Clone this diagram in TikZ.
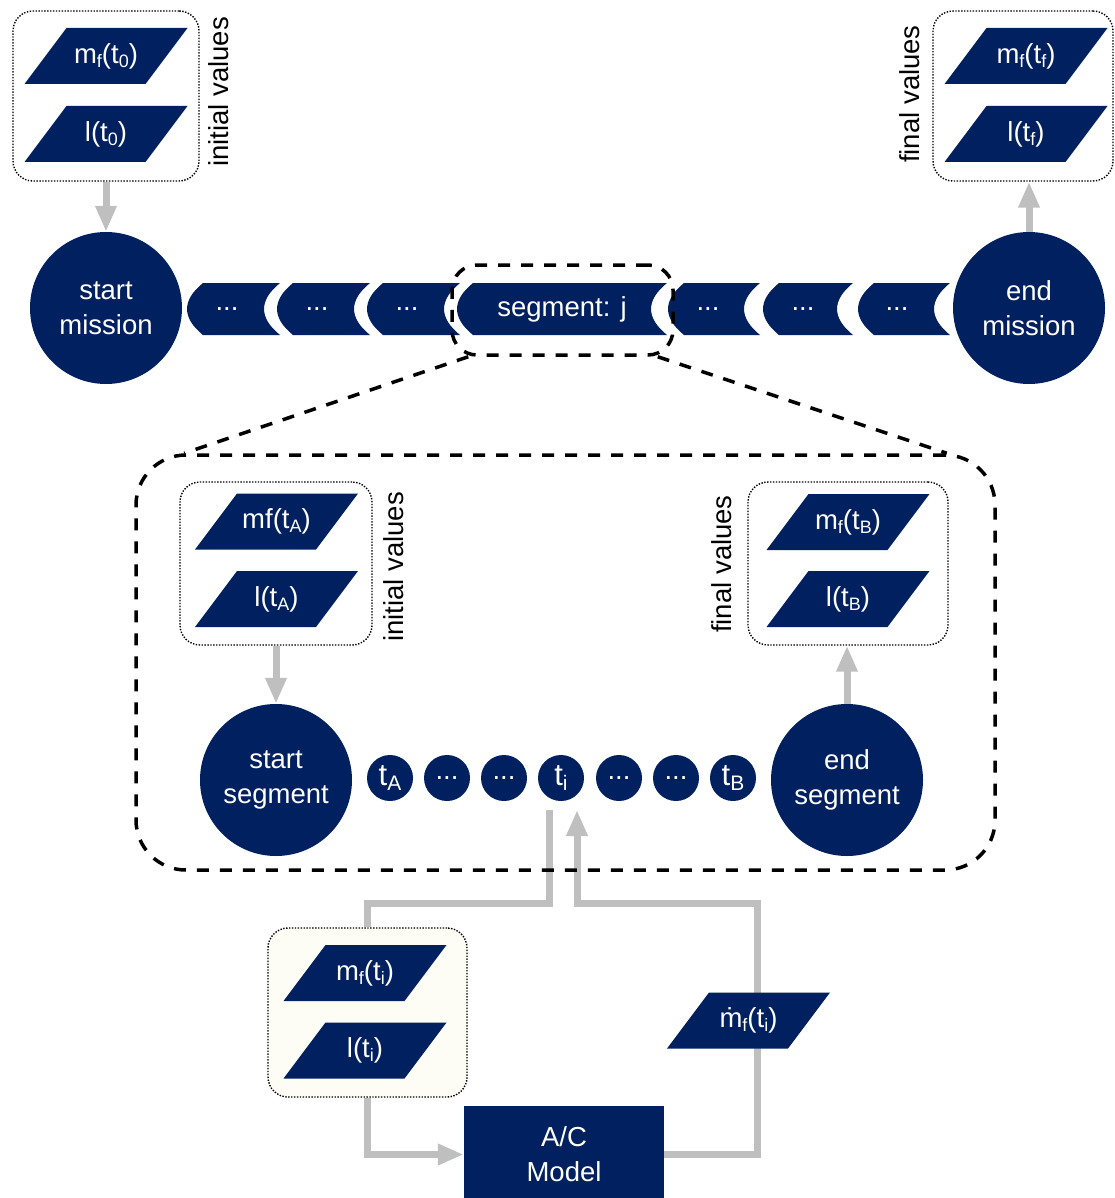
\documentclass[tikz,border=0pt]{standalone}
\usepackage{fontspec}
\setmainfont{Liberation Sans}
\usetikzlibrary{arrows.meta}

\definecolor{navy}{RGB}{0,32,96}
\definecolor{linkgray}{RGB}{191,191,191}
\definecolor{cream}{RGB}{253,253,246}

\pgfdeclarelayer{bg}
\pgfsetlayers{bg,main}

% lowered small index, as in m_f(t_0)
\newcommand\sub[1]{\raisebox{-4pt}{\fontsize{18}{18}\selectfont #1}}
% larger index for the time step discs
\newcommand\subt[1]{\raisebox{-5pt}{\fontsize{21}{21}\selectfont #1}}
% m with a dot above (mass flow)
\newcommand\mdot{\ooalign{m\cr\hidewidth\char"02D9\hidewidth\cr}}

% parallelogram data block: name, x, y, text
\newcommand\para[4]{%
  \fill[navy] (#2-39.5,#3-28) -- (#2+81.5,#3-28) -- (#2+39.5,#3+28) -- (#2-81.5,#3+28) -- cycle;
  \node[paratext] (#1) at (#2,#3) {#4};}

% mission segment chevron: name, left point x, right top x, text x, text
\newcommand\chev[5]{%
  \fill[navy] (#2+16,283) -- (#3,283)
    .. controls (#3-21.3,300.3) and (#3-21.3,317.7) .. (#3,335)
    -- (#2+16,335)
    .. controls (#2-5.3,317.7) and (#2-5.3,300.3) .. (#2+16,283) -- cycle;
  \node[chevtext] (#1) at (#4,309) {#5};}

\tikzset{
  every node/.style={font=\fontsize{27.5}{35}\selectfont},
  disc/.style={circle, fill=navy, text=white, minimum size=152pt, inner sep=0pt, align=center},
  tdot/.style={circle, fill=navy, text=white, minimum size=46pt, inner sep=0pt,
               font=\fontsize{31}{35}\selectfont},
  gapdot/.style={tdot, font=\fontsize{27.5}{35}\selectfont},
  paratext/.style={minimum width=163pt, minimum height=56pt, inner sep=0pt, text=white},
  chevtext/.style={text=white, inner sep=0pt},
  holder/.style={draw=black, rounded corners=20pt, line width=1.4pt,
                 dash pattern=on 1.4pt off 1.5pt, inner sep=0pt},
  sidenote/.style={rotate=90, inner sep=0pt},
  zoomline/.style={draw=black, line width=3.5pt, dash pattern=on 12pt off 11pt},
  link/.style={draw=linkgray, line width=7pt},
  linkarrow/.style={link, -{Triangle[width=20pt,length=26pt]}},
  model/.style={rectangle, fill=navy, text=white, align=center, inner sep=0pt}
}

\begin{document}
\begin{tikzpicture}[x=1pt, y=-1pt]
\useasboundingbox (0,0) rectangle (1115,1198);

% ---------- mission level ----------
\node[holder, minimum width=186pt, minimum height=170pt] (ini0) at (106,96) {};
\para{mf0}{106}{56}{m\sub{f}(t\sub{0})}
\para{l0}{106}{134}{l(t\sub{0})}
\node[sidenote] (ini0txt) at (219,92) {initial values};

\node[holder, minimum width=180pt, minimum height=170pt] (fin0) at (1023,96) {};
\para{mff}{1026}{56}{m\sub{f}(t\sub{f})}
\para{lf}{1026}{134}{l(t\sub{f})}
\node[sidenote] (fin0txt) at (910,94) {final values};

\chev{c1}{187}{280}{227}{...}
\chev{c2}{277}{370}{317}{...}
\chev{c3}{367}{460}{407}{...}
\chev{cj}{457}{667}{562}{segment: j}
\chev{c5}{668}{760}{708}{...}
\chev{c6}{763}{853}{803}{...}
\chev{c7}{858}{950}{897}{...}

\node[disc] (startm) at (106,308) {start\\mission};
\node[disc] (endm) at (1029,308) {end\\mission};

\node[zoomline, rectangle, rounded corners=25pt, minimum width=221pt, minimum height=90pt] (segbox) at (562.5,310) {};

% ---------- segment level ----------
\node[zoomline, rectangle, rounded corners=50pt, minimum width=859pt, minimum height=415pt] (zoombox) at (565.5,662.5) {};
\draw[zoomline] ([xshift=18pt]segbox.south west) -- ([xshift=50pt]zoombox.north west);
\draw[zoomline] ([xshift=-17pt]segbox.south east) -- ([xshift=-50pt]zoombox.north east);

\node[holder, minimum width=192pt, minimum height=163pt] (iniA) at (276,563.5) {};
\para{mfA}{276.5}{521.5}{mf(t\sub{A})}
\para{lA}{276.5}{599}{l(t\sub{A})}
\node[sidenote] (iniAtxt) at (394,567) {initial values};

\node[holder, minimum width=200pt, minimum height=163pt] (finB) at (848,563.5) {};
\para{mfB}{848}{522}{m\sub{f}(t\sub{B})}
\para{lB}{848}{599}{l(t\sub{B})}
\node[sidenote] (finBtxt) at (722,564) {final values};

\node[disc] (starts) at (276,780) {start\\segment};
\node[disc] (ends) at (847,780) {end\\segment};

\node[tdot] (tA) at (390,778) {t\subt{A}};
\node[gapdot] (t2) at (447,778) {...};
\node[gapdot] (t3) at (504,778) {...};
\node[tdot] (ti) at (561,778) {t\subt{i}};
\node[gapdot] (t5) at (619,778) {...};
\node[gapdot] (t6) at (676,778) {...};
\node[tdot] (tB) at (733,778) {t\subt{B}};

% ---------- time step level ----------
\node[holder, fill=cream, minimum width=199pt, minimum height=169pt] (stati) at (367.5,1012.5) {};
\para{mfi}{365}{973}{m\sub{f}(t\sub{i})}
\para{li}{365}{1050.5}{l(t\sub{i})}
\para{mdi}{748.5}{1020.5}{\mdot\sub{f}(t\sub{i})}

\node[model, minimum width=200pt, minimum height=97pt] (ac) at (564,1154.5) {A/C\\Model};

\coordinate (tiout) at (549,810);
\coordinate (tiin) at (577,810);
\coordinate (jl) at (549,903);
\coordinate (jr) at (757,903);

% ---------- connectors ----------
\begin{pgfonlayer}{bg}
\draw[linkarrow] (ini0.south) -- (startm.north);
\draw[linkarrow] (endm.north) -- (endm.north |- fin0.south);
\draw[linkarrow] (iniA.south) -- (starts.north);
\draw[linkarrow] (ends.north) -- (ends.north |- finB.south);
\draw[link] (stati.north) |- (jl) -- (tiout);
\draw[linkarrow] (stati.south) |- (ac.west);
\draw[linkarrow] (ac.east) -| (jr) -| (tiin);
\end{pgfonlayer}
\end{tikzpicture}
\end{document}
